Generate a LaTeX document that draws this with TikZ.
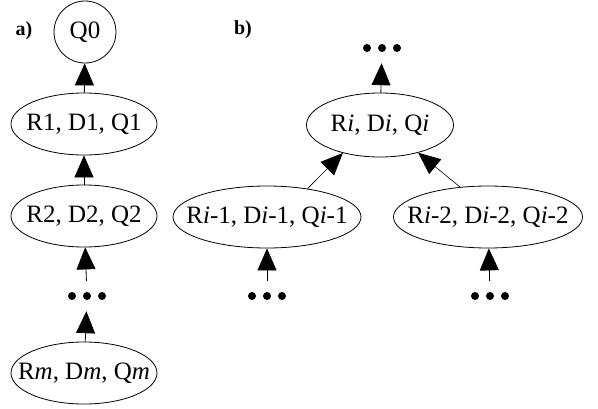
\documentclass[tikz,border=0pt]{standalone}
\usepackage{fontspec}
\setmainfont{Liberation Serif}
\usetikzlibrary{arrows.meta,shapes.geometric}
% three filled dots centred on a node
\newcommand{\dotrow}[1]{\fill ([xshift=-15pt]#1.center) circle (4pt) (#1.center) circle (4pt) ([xshift=15pt]#1.center) circle (4pt);}
\begin{document}
\begin{tikzpicture}[x=1pt,y=1pt,
  state/.style={draw,ellipse,line width=0.8pt,inner sep=0pt,font=\fontsize{25}{25}\selectfont},
  rootstate/.style={draw,circle,line width=0.8pt,inner sep=0pt,minimum size=62pt,font=\fontsize{25}{25}\selectfont},
  dotsnode/.style={inner sep=0pt,minimum width=40pt,minimum height=30pt},
  caption/.style={font=\bfseries\fontsize{20}{20}\selectfont,inner sep=0pt},
  up/.style={line width=0.8pt,-{Triangle[length=22pt,width=19pt]}},
  upthin/.style={line width=0.6pt,-{Triangle[length=22pt,width=19pt]}}]
\useasboundingbox (0,0) rectangle (598,-408);

% a) chain from Rm up to Q0
\node[caption] (la) at (24,-31) {a)};
\node[rootstate] (q0) at (85,-32) {Q0};
\node[state,minimum width=146pt,minimum height=62pt] (r1) at (84,-124) {\makebox[0pt]{R1, D1, Q1}};
\node[state,minimum width=146pt,minimum height=62pt] (r2) at (84,-216) {\makebox[0pt]{R2, D2, Q2}};
\node[dotsnode] (da) at (87,-296) {};
\node[state,minimum width=146pt,minimum height=62pt] (rm) at (84,-373) {\makebox[0pt]{R\textit{m}, D\textit{m}, Q\textit{m}}};
\dotrow{da}
\draw[up] (r1) -- (q0);
\draw[up] (r2) -- (r1);
\draw[up] (da) -- (r2);
\draw[up] (rm) -- (da);

% b) two children merging into node i
\node[caption] (lb) at (243,-30) {b)};
\node[dotsnode] (dt) at (382,-48) {};
\node[state,minimum width=147pt,minimum height=64pt] (ri) at (380,-125) {\makebox[0pt]{R\textit{i}, D\textit{i}, Q\textit{i}}};
\node[state,minimum width=188pt,minimum height=62pt] (ra) at (267,-217) {\makebox[0pt]{R\textit{i}-1, D\textit{i}-1, Q\textit{i}-1}};
\node[state,minimum width=189pt,minimum height=62pt] (rb) at (488,-217) {\makebox[0pt]{R\textit{i}-2, D\textit{i}-2, Q\textit{i}-2}};
\node[dotsnode] (dl) at (267,-296) {};
\node[dotsnode] (dr) at (490,-296) {};
\dotrow{dt}
\dotrow{dl}
\dotrow{dr}
\draw[up] (ri) -- (dt);
\draw[upthin] (ra.35) -- (ri.217);
\draw[upthin] (rb.133) -- (ri.324);
\draw[up] (dl) -- (ra);
\draw[up] (dr) -- (rb);
\end{tikzpicture}
\end{document}
